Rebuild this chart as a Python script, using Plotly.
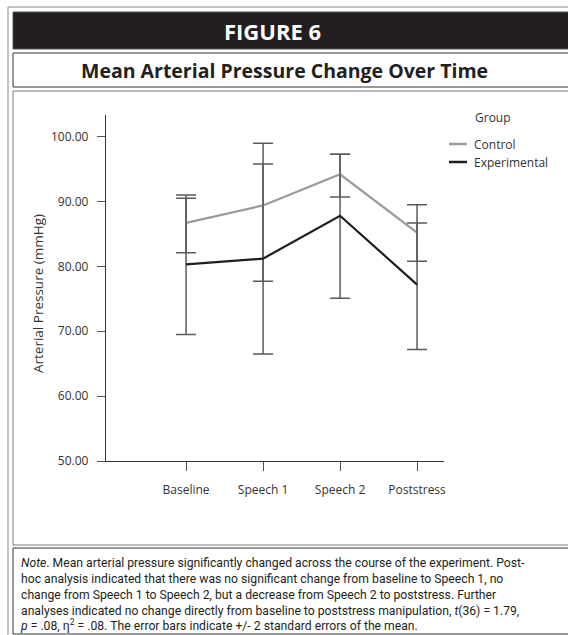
import plotly.graph_objects as go

# Measurement phases and group summaries (mmHg)
phases = ["Baseline", "Speech 1", "Speech 2", "Poststress"]
groups = ["Control", "Experimental"]

control_mean = [86.7, 89.4, 94.2, 85.2]
control_upper = [90.5, 99.0, 97.3, 89.5]
control_lower = [82.1, 77.7, 90.7, 80.8]

experimental_mean = [80.3, 81.2, 87.8, 77.2]
experimental_upper = [91.0, 95.8, 97.3, 86.7]
experimental_lower = [69.5, 66.5, 75.1, 67.2]

y_ticks = [50, 60, 70, 80, 90, 100]

W, H = 568, 635
L, R, T, B = 106, 124, 115, 174
PW, PH = W - L - R, H - T - B

def px(x):
    return (x - L) / PW

def py(y):
    return (H - B - y) / PH

FONT = "Open Sans, Noto Sans, sans-serif"
NOTE_FONT = "Roboto, sans-serif"
BAR_COLOR = "#5a5a5a"
LINE_COLORS = {"Control": "#9a9a9a", "Experimental": "#1e1e1e"}

series = {
    "Control": (control_mean, control_upper, control_lower),
    "Experimental": (experimental_mean, experimental_upper, experimental_lower),
}

fig = go.Figure()
for name in groups:
    mean, upper, lower = series[name]
    fig.add_trace(go.Scatter(
        x=phases, y=mean, mode="lines", name=name,
        line=dict(color=LINE_COLORS[name], width=2.2),
        error_y=dict(
            type="data", symmetric=False,
            array=[u - m for u, m in zip(upper, mean)],
            arrayminus=[m - lo for m, lo in zip(mean, lower)],
            color=BAR_COLOR, thickness=1.5, width=10,
        ),
        showlegend=False,
    ))

shapes = []
annotations = []

# Page frames
shapes.append(dict(type="rect", xref="paper", yref="paper",
                   x0=px(8), x1=px(580), y0=py(7), y1=py(645),
                   line=dict(color="#8a8a8a", width=1), layer="below"))
shapes.append(dict(type="rect", xref="paper", yref="paper",
                   x0=px(13), x1=px(580), y0=py(12), y1=py(49),
                   fillcolor="#231f20", line=dict(color="#555", width=1), layer="below"))
shapes.append(dict(type="rect", xref="paper", yref="paper",
                   x0=px(13), x1=px(580), y0=py(53), y1=py(87),
                   line=dict(color="#333", width=1), layer="below"))
shapes.append(dict(type="rect", xref="paper", yref="paper",
                   x0=px(13), x1=px(580), y0=py(91), y1=py(545),
                   line=dict(color="#777", width=1), layer="below"))
shapes.append(dict(type="rect", xref="paper", yref="paper",
                   x0=px(13), x1=px(580), y0=py(548), y1=py(634),
                   line=dict(color="#333", width=1), layer="below"))

annotations.append(dict(text="<b>FIGURE 6</b>", xref="paper", yref="paper",
                        x=px(272), y=py(31), showarrow=False,
                        font=dict(family=FONT, size=22, color="white"),
                        xanchor="center", yanchor="middle"))
annotations.append(dict(text="<b>Mean Arterial Pressure Change Over Time</b>",
                        xref="paper", yref="paper", x=px(284), y=py(71),
                        showarrow=False, font=dict(family=FONT, size=19.5, color="#231f20"),
                        xanchor="center", yanchor="middle"))

# Legend
annotations.append(dict(text="Group", xref="paper", yref="paper",
                        x=px(473), y=py(117), showarrow=False,
                        font=dict(family=FONT, size=12, color="#333"),
                        xanchor="left", yanchor="middle"))
for i, name in enumerate(groups):
    yy = 144 + 18 * i
    shapes.append(dict(type="line", xref="paper", yref="paper",
                       x0=px(449), x1=px(467), y0=py(yy), y1=py(yy),
                       line=dict(color=LINE_COLORS[name], width=2.5)))
    annotations.append(dict(text=name, xref="paper", yref="paper",
                            x=px(472), y=py(yy), showarrow=False,
                            font=dict(family=FONT, size=12, color="#333"),
                            xanchor="left", yanchor="middle"))

# Y axis title
annotations.append(dict(text="Arterial Pressure (mmHg)", xref="paper", yref="paper",
                        x=px(38), y=py(294), textangle=-90, showarrow=False,
                        font=dict(family=FONT, size=13.5, color="#333"),
                        xanchor="center", yanchor="middle"))

# Note
note = ("<i>Note</i>. Mean arterial pressure significantly changed across the course of the experiment. Post-<br>"
        "hoc analysis indicated that there was no significant change from baseline to Speech 1, no<br>"
        "change from Speech 1 to Speech 2, but a decrease from Speech 2 to poststress. Further<br>"
        "analyses indicated no change directly from baseline to poststress manipulation, <i>t</i>(36) = 1.79,<br>"
        "<i>p</i> = .08, η<sup>2</sup> = .08. The error bars indicate +/- 2 standard errors of the mean.")
annotations.append(dict(text=note, xref="paper", yref="paper",
                        x=px(18), y=py(554), showarrow=False, align="left",
                        font=dict(family=NOTE_FONT, size=12.2, color="#231f20"),
                        xanchor="left", yanchor="top"))

fig.update_layout(
    width=W, height=H,
    margin=dict(l=L, r=R, t=T, b=B, pad=0),
    paper_bgcolor="white", plot_bgcolor="white",
    shapes=shapes, annotations=annotations,
    xaxis=dict(
        type="category", categoryorder="array", categoryarray=phases,
        range=[-1.04, 3.35], showgrid=False, zeroline=False,
        showline=True, linecolor="#333", linewidth=1.3,
        ticks="outside", ticklen=9, tickcolor="#555", tickwidth=1.3,
        ticklabelstandoff=8,
        tickfont=dict(family=FONT, size=12, color="#333"),
    ),
    yaxis=dict(
        range=[50, 103.34], tickvals=y_ticks, tickformat=".2f",
        showgrid=False, zeroline=False,
        showline=True, linecolor="#333", linewidth=1.3,
        ticks="outside", ticklen=8, tickcolor="#555", tickwidth=1.3,
        ticklabelstandoff=6,
        tickfont=dict(family=FONT, size=12, color="#333"),
    ),
)

fig.write_html("out.html")
